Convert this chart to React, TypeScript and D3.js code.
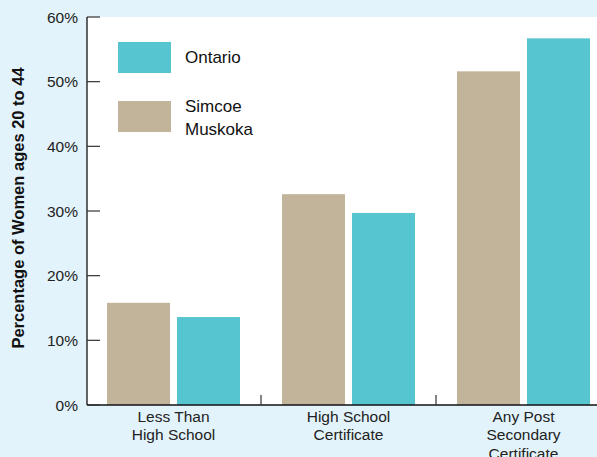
import React from "react";
import * as d3 from "d3";

const categories: string[][] = [
  ["Less Than", "High School"],
  ["High School", "Certificate"],
  ["Any Post", "Secondary", "Certificate"],
];
const seriesNames = ["Simcoe Muskoka", "Ontario"];
const simcoe = [15.8, 32.6, 51.6];
const ontario = [13.6, 29.7, 56.7];
const yTicks = [0, 10, 20, 30, 40, 50, 60];

const W = 597;
const H = 457;
const BG = "#e3f3fb";
const TAN = "#c2b49a";
const CYAN = "#57c5d0";

export default function App() {
  const left = 87;
  const top = 17;
  const bottom = 405;
  const bandW = 175;
  const x = d3
    .scaleBand<number>()
    .domain(categories.map((_, i) => i))
    .range([left - 1, left - 1 + bandW * categories.length])
    .paddingInner(0)
    .paddingOuter(0);
  const inner = d3
    .scaleBand<number>()
    .domain([0, 1])
    .range([0, bandW])
    .paddingInner(7 / 70)
    .paddingOuter(0.3);
  const y = d3.scaleLinear().domain([0, 60]).range([bottom, top]);
  const series = [simcoe, ontario];
  const colors = [TAN, CYAN];
  const font = "Liberation Sans, Arial, Helvetica, sans-serif";

  return (
    <svg
      width={W}
      height={H}
      style={{ position: "absolute", left: 0, top: 0, display: "block" }}
      fontFamily={font}
    >
      <rect x={0} y={0} width={W} height={H} fill={BG} />
      <rect x={left} y={top} width={W - left} height={bottom - top} fill="#ffffff" />
      {series.map((vals, s) =>
        vals.map((v, i) => (
          <rect
            key={`${s}-${i}`}
            x={(x(i) as number) + (inner(s) as number)}
            y={y(v)}
            width={inner.bandwidth()}
            height={bottom - y(v)}
            fill={colors[s]}
          />
        ))
      )}
      {/* axes */}
      <line x1={left} x2={left} y1={top} y2={bottom} stroke="#111" strokeWidth={1.3} />
      <line x1={left} x2={W} y1={bottom} y2={bottom} stroke="#111" strokeWidth={1.3} />
      {yTicks.map((t) => (
        <g key={t}>
          <line x1={left} x2={left + 13} y1={y(t)} y2={y(t)} stroke="#333" strokeWidth={1.2} />
          <text x={78} y={y(t) + 5.5} textAnchor="end" fontSize={15.5} fill="#222">
            {t}%
          </text>
        </g>
      ))}
      {categories.slice(1).map((_, i) => (
        <line
          key={i}
          x1={x(i + 1) as number}
          x2={x(i + 1) as number}
          y1={bottom}
          y2={bottom - 10}
          stroke="#333"
          strokeWidth={1.2}
        />
      ))}
      {categories.map((lines, i) => (
        <text
          key={i}
          x={(x(i) as number) + bandW / 2}
          textAnchor="middle"
          fontSize={15.5}
          fill="#222"
        >
          {lines.map((l, j) => (
            <tspan key={j} x={(x(i) as number) + bandW / 2} y={421.5 + j * 18.5}>
              {l}
            </tspan>
          ))}
        </text>
      ))}
      {/* y title */}
      <text
        transform={`translate(24, ${(top + bottom) / 2 - 3}) rotate(-90)`}
        textAnchor="middle"
        fontSize={16.5}
        fontWeight="bold"
        fill="#111"
      >
        Percentage of Women ages 20 to 44
      </text>
      {/* legend */}
      <rect x={118} y={42} width={53} height={31} fill={CYAN} />
      <text x={185} y={63} fontSize={17} fill="#111">
        {seriesNames[1]}
      </text>
      <rect x={118} y={101} width={53} height={31} fill={TAN} />
      <text fontSize={17} fill="#111">
        <tspan x={185} y={112}>Simcoe</tspan>
        <tspan x={185} y={135}>Muskoka</tspan>
      </text>
    </svg>
  );
}
